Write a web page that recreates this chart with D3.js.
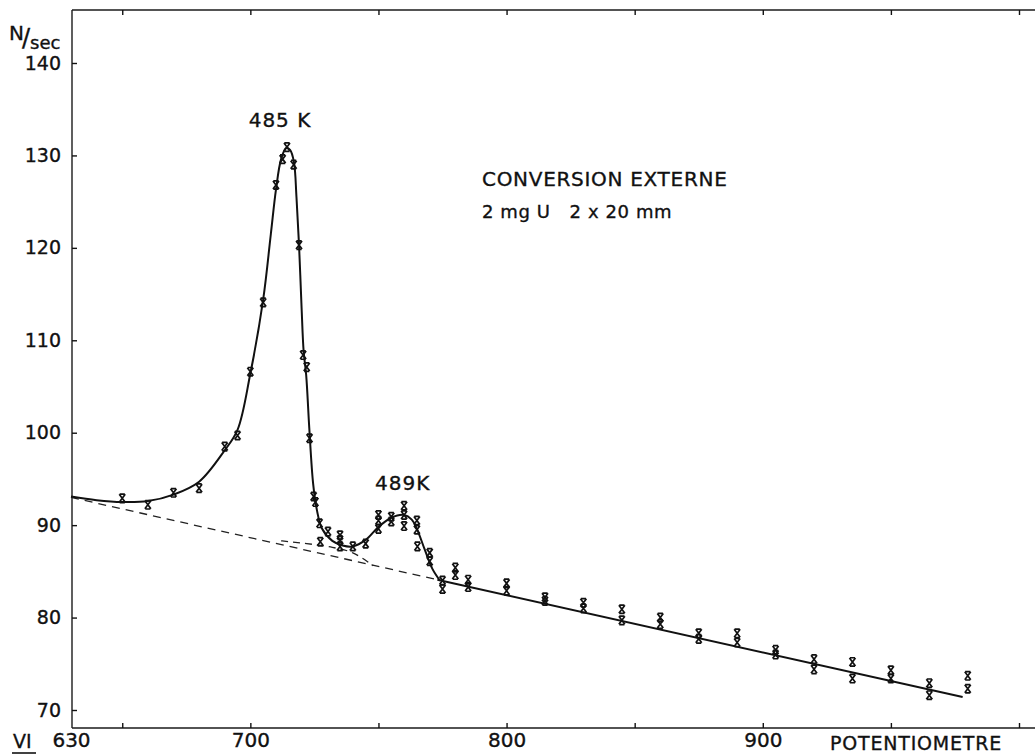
<!DOCTYPE html>
<html>
<head>
<meta charset="utf-8">
<script src="https://cdn.jsdelivr.net/npm/d3@7"></script>
<style>
  html, body { margin: 0; padding: 0; background: #fff; }
  svg { display: block; }
  text { font-family: "DejaVu Sans", "Liberation Sans", sans-serif; fill: #111; stroke: #111; stroke-width: 0.35px; }
</style>
</head>
<body>
<svg id="chart" width="1035" height="756"></svg>
<script>
// Measured points: potentiometer setting vs counting rate (N/sec)
const potentiometre = [
  650, 660, 670, 680, 690, 695, 700, 705, 710, 712.6, 714.3, 716.9, 719, 720.6, 722, 723.1,
  724.7, 725.4, 727, 727.3, 730.3, 735, 735, 735, 740, 745, 750, 750, 750, 755, 755,
  760, 760, 760, 765, 765, 765.2, 770, 770, 775, 775, 780, 780, 785, 785, 800, 800,
  815, 815, 830, 830, 845, 845, 860, 860, 875, 875, 890, 890, 905, 905,
  920, 920, 935, 935, 950, 950, 965, 965, 980, 980
];
const countRate = [
  92.9, 92.2, 93.5, 94.0, 98.5, 99.7, 106.6, 114.1, 126.8, 129.6, 130.9, 129.0, 120.3, 108.4, 107.1, 99.4,
  93.1, 92.5, 90.2, 88.2, 89.3, 88.9, 88.4, 87.7, 87.7, 88.0, 91.1, 90.5, 89.6, 90.9, 90.4,
  92.1, 91.1, 89.9, 90.5, 89.5, 87.7, 87.0, 86.1, 84.0, 83.1, 85.4, 84.6, 84.1, 83.3, 83.7, 82.9,
  82.2, 81.8, 81.6, 81.0, 80.9, 79.7, 80.0, 79.3, 78.3, 77.7, 78.3, 77.3, 76.5, 76.0,
  75.5, 74.4, 75.2, 73.4, 74.3, 73.4, 72.9, 71.6, 73.7, 72.3
];

// Hand-fitted curve through the two lines 485 K and 489 K
const curveX = [630, 640, 650, 660, 670, 680, 690, 695, 700, 705, 708, 710, 712, 714, 715.5,
  717, 718, 719, 720, 720.8, 721.8, 723, 724.5, 726, 728, 732, 736, 740, 745, 750, 755, 760,
  763, 765, 768, 771, 774];
const curveY = [93.1, 92.7, 92.5, 92.6, 93.3, 94.7, 98.1, 100.3, 106.4, 114.4, 121.5, 126.3, 129.6, 130.8, 130.6,
  129.3, 125.5, 120.3, 113.5, 108.8, 106.2, 100.5, 94.5, 91.6, 89.6, 88.3, 87.8, 87.7, 88.4, 89.8, 90.8, 91.1,
  90.6, 89.6, 87.4, 85.3, 84.0];

// Straight background line: dashed under the peaks, solid beyond
const baseDashX = [630, 773];
const baseDashY = [93.0, 84.1];
const baseSolidX = [773, 978];
const baseSolidY = [84.1, 71.4];

// Tail of the 485 K line running under 489 K
const tailX = [712, 722, 732, 740, 748];
const tailY = [88.3, 88.0, 87.6, 87.0, 85.6];

// Axis ticks and labels
const xTicks = [650, 700, 750, 800, 850, 900, 950, 1000];
const xLabels = [630, 700, 800, 900];
const yTicks = [70, 80, 90, 100, 110, 120, 130, 140];

const svg = d3.select("#chart");
const frameLeft = 72, frameRight = 1035, frameTop = 10, frameBottom = 728;

const x = d3.scaleLinear().domain([630, 1000]).range([71, 1019]);
const y = d3.scaleLinear().domain([70, 140]).range([710, 63]);

// Frame
const frame = svg.append("g").attr("stroke", "#1a1a1a").attr("stroke-width", 1.4).attr("fill", "none");
frame.append("line").attr("x1", frameLeft).attr("x2", frameLeft).attr("y1", frameTop).attr("y2", frameBottom);
frame.append("line").attr("x1", frameLeft).attr("x2", frameRight).attr("y1", frameTop).attr("y2", frameTop);
frame.append("line").attr("x1", frameLeft).attr("x2", frameRight).attr("y1", frameBottom).attr("y2", frameBottom);

// Left axis with inward ticks
const yAxis = svg.append("g")
  .attr("transform", `translate(${frameLeft},0)`)
  .call(d3.axisLeft(y).tickValues(yTicks).tickSize(-5).tickPadding(11).tickFormat(d3.format("d")));
yAxis.select(".domain").remove();
yAxis.selectAll(".tick line").attr("stroke", "#111").attr("stroke-width", 1.4);
yAxis.selectAll(".tick text").attr("font-size", 19).attr("fill", "#111")
  .attr("font-family", "DejaVu Sans");

// Bottom axis ticks (pointing up)
const xAxis = svg.append("g")
  .attr("transform", `translate(0,${frameBottom})`)
  .call(d3.axisBottom(x).tickValues(xTicks).tickSize(-5).tickFormat(""));
xAxis.select(".domain").remove();
xAxis.selectAll(".tick line").attr("stroke", "#111").attr("stroke-width", 1.4);

// Bottom axis labels
const xLab = svg.append("g")
  .attr("transform", `translate(0,${frameBottom})`)
  .call(d3.axisBottom(x).tickValues(xLabels).tickSize(0).tickPadding(5).tickFormat(d3.format("d")));
xLab.select(".domain").remove();
xLab.selectAll(".tick text").attr("font-size", 20).attr("fill", "#111")
  .attr("font-family", "DejaVu Sans");

// Top axis ticks (pointing down)
const xTop = svg.append("g")
  .attr("transform", `translate(0,${frameTop})`)
  .call(d3.axisTop(x).tickValues(xTicks).tickSize(-5).tickFormat(""));
xTop.select(".domain").remove();
xTop.selectAll(".tick line").attr("stroke", "#111").attr("stroke-width", 1.4);

// Lines
const zip = (a, b) => a.map((v, i) => [v, b[i]]);
const straight = d3.line().x(d => x(d[0])).y(d => y(d[1]));

svg.append("path")
  .datum(zip(baseDashX, baseDashY))
  .attr("d", straight)
  .attr("fill", "none").attr("stroke", "#222").attr("stroke-width", 1.3)
  .attr("stroke-dasharray", "8,6");

svg.append("path")
  .datum(zip(tailX, tailY))
  .attr("d", d3.line().x(d => x(d[0])).y(d => y(d[1])).curve(d3.curveMonotoneX))
  .attr("fill", "none").attr("stroke", "#222").attr("stroke-width", 1.3)
  .attr("stroke-dasharray", "7,5");

svg.append("path")
  .datum(zip(baseSolidX, baseSolidY))
  .attr("d", straight)
  .attr("fill", "none").attr("stroke", "#111").attr("stroke-width", 2);

svg.append("path")
  .datum(zip(curveX, curveY))
  .attr("d", d3.line().x(d => x(d[0])).y(d => y(d[1])).curve(d3.curveCatmullRom.alpha(0.5)))
  .attr("fill", "none").attr("stroke", "#111").attr("stroke-width", 2);

// Point markers: small serifed crosses
const cross = "M-3,-4L3,4M3,-4L-3,4M-2.6,-4.2H2.6M-2.6,4.2H2.6";
svg.append("g")
  .selectAll("path")
  .data(zip(potentiometre, countRate))
  .join("path")
  .attr("transform", d => `translate(${x(d[0])},${y(d[1])})`)
  .attr("d", cross)
  .attr("fill", "none").attr("stroke", "#111").attr("stroke-width", 1.7);

// Text annotations
svg.append("text").attr("x", 280).attr("y", 127).attr("text-anchor", "middle")
  .attr("font-size", 20).attr("letter-spacing", 1).text("485 K");
svg.append("text").attr("x", 375).attr("y", 490)
  .attr("font-size", 20).attr("letter-spacing", 1).text("489K");
svg.append("text").attr("x", 482).attr("y", 186)
  .attr("font-size", 20).attr("letter-spacing", 0.7).text("CONVERSION EXTERNE");
svg.append("text").attr("x", 482).attr("y", 218)
  .attr("font-size", 18).attr("letter-spacing", 0.6).style("white-space", "pre")
  .text("2 mg U   2 x 20 mm");

// Axis titles
const unit = svg.append("text").attr("x", 9).attr("y", 40).attr("font-size", 20);
unit.append("tspan").text("N");
unit.append("tspan").attr("dx", -2).attr("dy", 6).attr("font-size", 24).text("/");
unit.append("tspan").attr("dx", 0).attr("dy", 3).attr("font-size", 18).text("sec");

svg.append("text").attr("x", 13).attr("y", 748).attr("font-size", 19).text("VI");
svg.append("line").attr("x1", 12).attr("x2", 36).attr("y1", 753).attr("y2", 753)
  .attr("stroke", "#111").attr("stroke-width", 1.6);

svg.append("text").attr("x", 830).attr("y", 750).attr("font-size", 19)
  .attr("letter-spacing", 0.8).text("POTENTIOMETRE");
</script>
</body>
</html>
